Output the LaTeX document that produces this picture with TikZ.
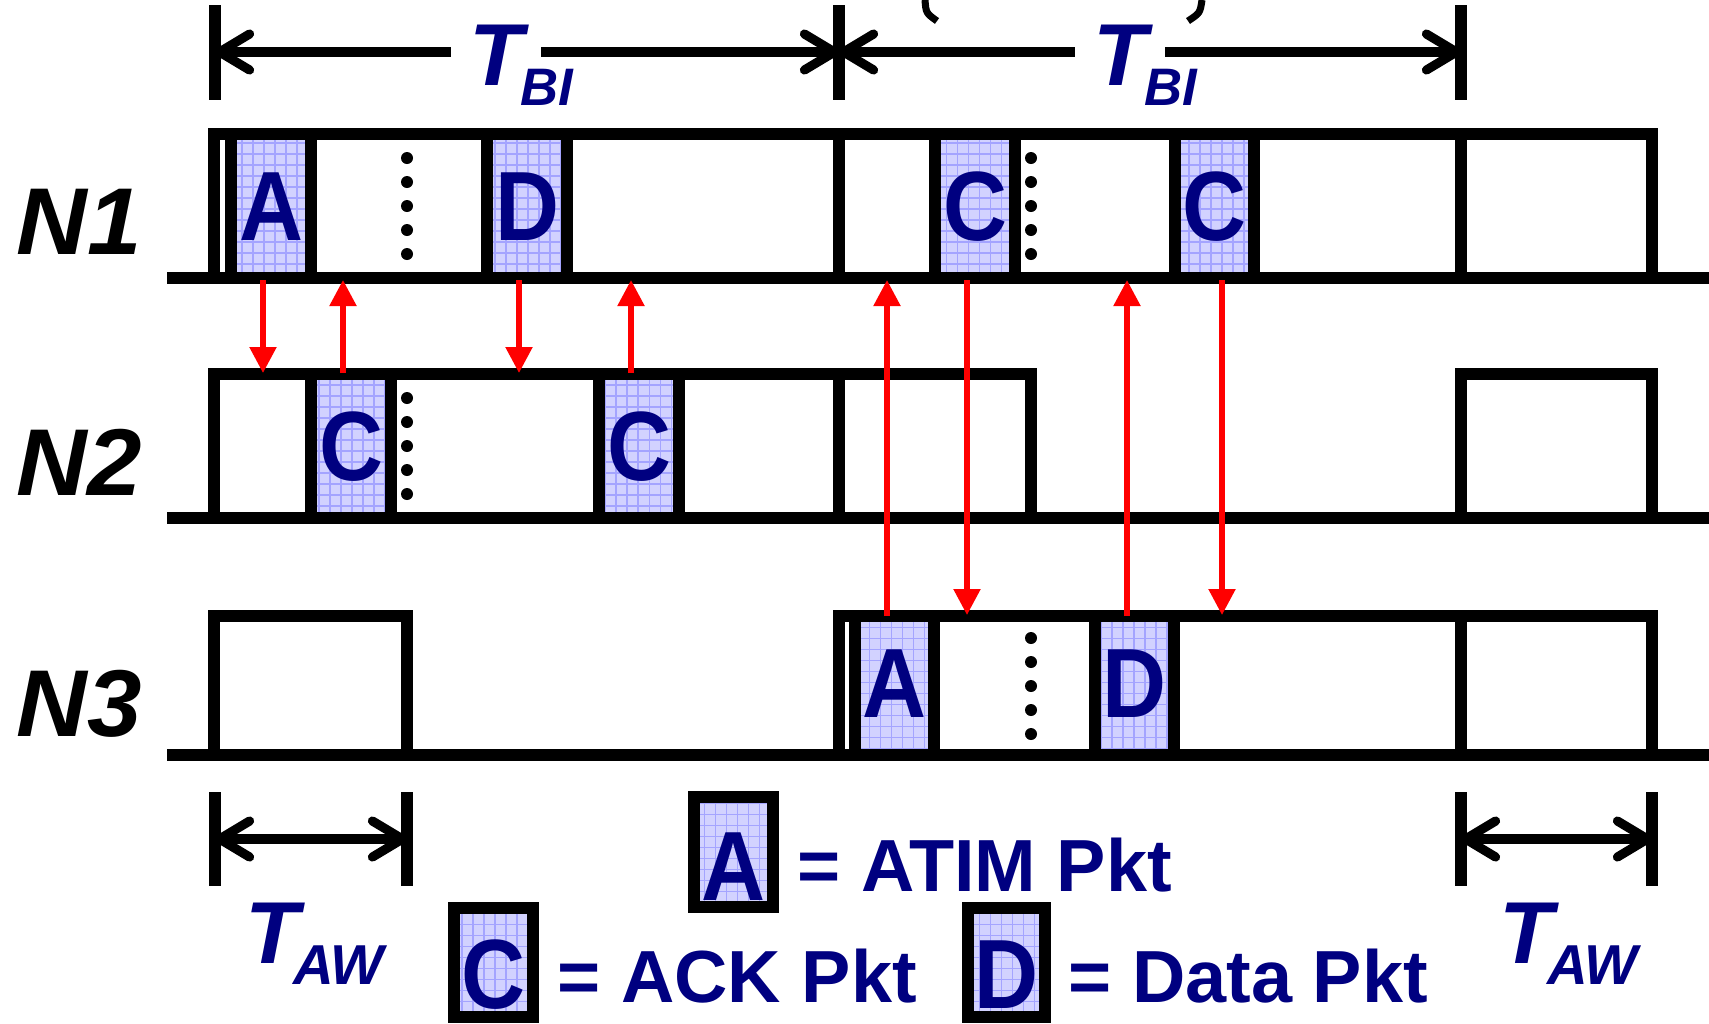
\documentclass[tikz,border=0pt]{standalone}
\usepackage{fontspec}
\setmainfont{Liberation Sans}
\usetikzlibrary{arrows.meta}
\definecolor{navy}{HTML}{000080}
\definecolor{pktfill}{HTML}{D2D2FF}
\definecolor{pktgrid}{HTML}{A4A4FF}

\begin{document}
\begin{tikzpicture}[x=0.01cm,y=-0.01cm,
    row/.style={line width=3.4pt,line join=miter},
    bar/.style={line width=3.4pt},
    half/.style={line width=2.6pt,-{Straight Barb[length=3mm,width=3.6mm,round]}},
    span/.style={line width=2.6pt,{Straight Barb[length=3mm,width=3.6mm,round]}-{Straight Barb[length=3mm,width=3.6mm,round]}},
    sig/.style={red,line width=1.5pt,-{Triangle[length=2.6mm,width=2.6mm]}},
    pkt/.style={line width=3.4pt},
    ltr/.style={text=navy,font=\fontsize{28}{28}\selectfont\bfseries,inner sep=0pt,anchor=base},
    tlbl/.style={text=navy,font=\fontsize{25}{25}\selectfont\bfseries\itshape,inner sep=0pt,anchor=base},
    sublbl/.style={text=navy,font=\fontsize{16}{16}\selectfont\bfseries\itshape,inner sep=0pt,anchor=base west},
    rowlbl/.style={font=\fontsize{27}{27}\selectfont\bfseries\itshape,inner sep=0pt,anchor=base west},
    key/.style={text=navy,font=\fontsize{21}{21}\selectfont\bfseries,inner sep=0pt,anchor=base west}]
  \useasboundingbox (0,0) rectangle (1709,1023);
  % node rows
  \node[rowlbl] (n1) at (16,254) {\scalebox{1.03}[1]{N1}};
  \node[rowlbl] (n2) at (16,495) {\scalebox{1.03}[1]{N2}};
  \node[rowlbl] (n3) at (16,736) {\scalebox{1.03}[1]{N3}};
  \foreach \y in {278,518,755}
    \draw[row] (167,\y) -- (1709,\y);
  \draw[row] (214,278) -- (214,134) -- (1652,134) -- (1652,278);
  \draw[row] (214,518) -- (214,374) -- (1031,374) -- (1031,518);
  \draw[row] (1461,518) -- (1461,374) -- (1652,374) -- (1652,518);
  \draw[row] (214,755) -- (214,616) -- (407,616) -- (407,755);
  \draw[row] (839,755) -- (839,616) -- (1652,616) -- (1652,755);
  \foreach \x/\ya/\yb in {839/134/278,1461/134/278,839/374/518,1461/616/755}
    \draw[row] (\x,\ya) -- (\x,\yb);
  % packets and legend boxes
  \foreach \n/\xa/\xb/\ya/\yb/\yt/\pl in {pa1/231/311/134/278/240/A,pd1/487/567/134/278/240/D,
      pc1/935/1015/134/278/240/C,pc2/1175/1254/134/278/240/C,pc3/311/391/374/518/480/C,
      pc4/599/679/374/518/480/C,pa2/855/934/616/755/717/A,pd2/1095/1174/616/755/717/D,
      la/694/773/797/907/900/A,lc/454/533/908/1017/1008/C,ld/968/1045/908/1017/1008/D}{
    \fill[pktfill] (\xa,\ya) rectangle (\xb,\yb);
    \begin{scope}
      \clip (\xa,\ya) rectangle (\xb,\yb);
      \draw[pktgrid,line width=0.5pt] (\xa,\ya) grid[step=1.1mm] (\xb,\yb);
    \end{scope}
    \draw[pkt] (\xa,\ya) rectangle (\xb,\yb);
    \node[ltr] (\n) at ({(\xa+\xb)/2},\yt) {\scalebox{0.9}[1]{\pl}};
  }
  % dots
  \foreach \x/\y in {407/206,1031/206,407/446,1031/686}
    \foreach \d in {-48,-24,0,24,48}
      \fill (\x,\y+\d) circle (0.6mm);
  % signals
  \foreach \x/\ya/\yb [count=\i] in {263/280/373,343/373/280,519/280/373,631/373/280,
      887/616/280,967/280/615,1127/616/280,1222/280/615}{
    \coordinate (s\i) at (\x,\ya);
    \coordinate (e\i) at (\x,\yb);
    \draw[sig] (s\i) -- (e\i);
  }
  % beacon intervals
  \foreach \x in {215,839,1461}
    \draw[bar] (\x,5) -- (\x,100);
  \coordinate (b0) at (215,52);
  \coordinate (b1) at (839,52);
  \coordinate (b2) at (1461,52);
  \node[tlbl,inner xsep=5pt] (tb1) at (496,85) {T};
  \node[sublbl,font=\fontsize{15}{15}\selectfont\bfseries\itshape] (bi1) at ([xshift=-6pt,yshift=-5.8pt]tb1.base east) {BI};
  \node[tlbl,inner xsep=5pt] (tb2) at (1120,85) {T};
  \node[sublbl,font=\fontsize{15}{15}\selectfont\bfseries\itshape] (bi2) at ([xshift=-6pt,yshift=-5.8pt]tb2.base east) {BI};
  \draw[half] (tb1.west |- b0) -- (b0);
  \draw[half] (tb1.east |- b0) -- (b1);
  \draw[half] (tb2.west |- b1) -- (b1);
  \draw[half] (tb2.east |- b1) -- (b2);
  \draw[line width=2pt] (925,0) .. controls (926,13) .. (937,21);
  \draw[line width=2pt] (1202,0) .. controls (1200,13) .. (1188,21);
  % atim windows
  \foreach \x in {215,407,1461,1652}
    \draw[bar] (\x,792) -- (\x,886);
  \coordinate (w0) at (215,839);
  \coordinate (w1) at (407,839);
  \coordinate (w2) at (1461,839);
  \coordinate (w3) at (1652,839);
  \draw[span] (w0) -- (w1);
  \draw[span] (w2) -- (w3);
  \node[tlbl] (ta1) at (272,963) {T};
  \node[sublbl] (aw1) at ([xshift=-2pt,yshift=-6pt]ta1.base east) {AW};
  \node[tlbl] (ta2) at (1526,963) {T};
  \node[sublbl] (aw2) at ([xshift=-2pt,yshift=-6pt]ta2.base east) {AW};
  % legend
  \node[key] (ka) at (797,891) {= ATIM Pkt};
  \node[key] (kc) at (557,1002) {= ACK Pkt};
  \node[key] (kd) at (1068,1002) {= Data Pkt};
\end{tikzpicture}
\end{document}
